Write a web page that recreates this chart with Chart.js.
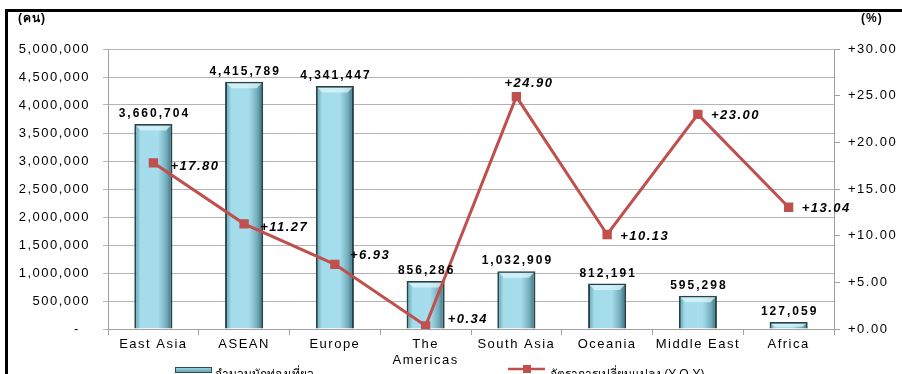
<!DOCTYPE html>
<html>
<head>
<meta charset="utf-8">
<script src="https://cdn.jsdelivr.net/npm/chart.js@4/dist/chart.umd.min.js"></script>
<style>
  html, body { margin: 0; padding: 0; background: #fff; }
  #wrap { position: relative; width: 902px; height: 374px; }
</style>
</head>
<body>
<div id="wrap"><canvas id="chart" width="902" height="374"></canvas></div>
<script>
// data
const regions = ["East Asia", "ASEAN", "Europe", ["The", "Americas"], "South Asia", "Oceania", "Middle East", "Africa"];
const visitors = [3660704, 4415789, 4341447, 856286, 1032909, 812191, 595298, 127059];
const growth = [17.80, 11.27, 6.93, 0.34, 24.90, 10.13, 23.00, 13.04];
const visitorsLabel = "จำนวนนักท่องเที่ยว";
const growthLabel = "อัตราการเปลี่ยนแปลง (Y-O-Y)";

// where the growth labels sit relative to their point (dx, dy)
const growthLabelOffset = [[17, 4], [16, 4], [15, -9], [22, -6], [-12, -13], [13, 2], [13, 1], [13, 1]];

const FONT = "'Liberation Sans', Arial, sans-serif";
const fmt = (v) => v.toLocaleString("en-US");
const fmtPct = (v) => "+" + v.toFixed(2);

const barFill = (ctx) => {
  const chart = ctx.chart;
  const xs = chart.scales.x;
  if (!chart.chartArea || !xs || ctx.dataIndex == null) return "#93CDDD";
  const cx = xs.getPixelForValue(ctx.dataIndex);
  const g = chart.ctx.createLinearGradient(cx - 19, 0, cx + 19, 0);
  g.addColorStop(0, "#5E98A7");
  g.addColorStop(0.16, "#A3DCEB");
  g.addColorStop(0.62, "#A6DDEC");
  g.addColorStop(0.84, "#74AEBD");
  g.addColorStop(1, "#3B6976");
  return g;
};

const decor = {
  id: "decor",
  beforeDraw(chart) {
    chart.ctx.letterSpacing = "1.5px";
  },
  afterDatasetDraw(chart, args) {
    if (args.index !== 1) return;
    // light bevel on top of each bar
    const ctx = chart.ctx;
    ctx.save();
    ctx.fillStyle = "rgba(220,245,250,0.75)";
    args.meta.data.forEach((bar) => {
      const l = bar.x - bar.width / 2 + 1.5;
      const r = bar.x + bar.width / 2 - 1.5;
      const t = bar.y + 1.5;
      const d = Math.min(5, (bar.base - bar.y) / 2);
      ctx.beginPath();
      ctx.moveTo(l, t);
      ctx.lineTo(r, t);
      ctx.lineTo(r - d, t + d);
      ctx.lineTo(l + d, t + d);
      ctx.closePath();
      ctx.fill();
    });
    ctx.restore();
  },
  afterDatasetsDraw(chart) {
    const ctx = chart.ctx;
    ctx.save();
    ctx.fillStyle = "#000";
    ctx.textAlign = "center";
    ctx.textBaseline = "bottom";
    ctx.font = "bold 12px " + FONT;
    ctx.letterSpacing = "2px";
    chart.getDatasetMeta(1).data.forEach((bar, i) => {
      ctx.fillText(fmt(visitors[i]), bar.x + 1, bar.y - 4);
    });
    ctx.font = "italic bold 13px " + FONT;
    ctx.letterSpacing = "1.5px";
    ctx.textAlign = "left";
    ctx.textBaseline = "middle";
    chart.getDatasetMeta(0).data.forEach((pt, i) => {
      const [dx, dy] = growthLabelOffset[i];
      ctx.fillText(fmtPct(growth[i]), pt.x + dx, pt.y + dy);
    });
    ctx.restore();
  },
  afterDraw(chart) {
    const ctx = chart.ctx;
    ctx.save();
    // frame
    ctx.strokeStyle = "#000";
    ctx.lineWidth = 3;
    ctx.beginPath();
    ctx.moveTo(6.5, 374);
    ctx.lineTo(6.5, 10.5);
    ctx.lineTo(902, 10.5);
    ctx.stroke();
    // unit titles
    ctx.fillStyle = "#000";
    ctx.font = "bold 12px " + FONT;
    ctx.letterSpacing = "1px";
    ctx.textBaseline = "middle";
    ctx.textAlign = "left";
    ctx.fillText("(คน)", 18, 19);
    ctx.fillText("(%)", 861, 19);
    // legend
    ctx.font = "12px " + FONT;
    ctx.letterSpacing = "0px";
    const ly = 370;
    const g = ctx.createLinearGradient(0, ly - 3, 0, ly + 3);
    g.addColorStop(0, "#A6DDEC");
    g.addColorStop(1, "#5E98A7");
    ctx.fillStyle = g;
    ctx.fillRect(175, ly - 3, 37, 6);
    ctx.strokeStyle = "#2B4E57";
    ctx.lineWidth = 1;
    ctx.strokeRect(175.5, ly - 2.5, 36, 5);
    ctx.fillStyle = "#000";
    ctx.fillText(visitorsLabel, 215, ly + 5);
    ctx.strokeStyle = "#C0504D";
    ctx.lineWidth = 2.5;
    ctx.beginPath();
    ctx.moveTo(508, ly - 1);
    ctx.lineTo(545, ly - 1);
    ctx.stroke();
    ctx.fillStyle = "#C0504D";
    ctx.fillRect(523, ly - 5, 8, 8);
    ctx.fillStyle = "#000";
    ctx.fillText(growthLabel, 550, ly + 5);
    ctx.restore();
  },
};

const chart = new Chart(document.getElementById("chart"), {
  type: "bar",
  data: {
    labels: regions,
    datasets: [
      {
        type: "line",
        label: growthLabel,
        data: growth,
        yAxisID: "y1",
        borderColor: "#C0504D",
        backgroundColor: "#C0504D",
        borderWidth: 3,
        pointStyle: "rect",
        pointRadius: 4.5,
        pointHoverRadius: 4.5,
        tension: 0,
        order: 0,
      },
      {
        label: visitorsLabel,
        data: visitors,
        yAxisID: "y",
        backgroundColor: barFill,
        borderColor: "#24444C",
        borderWidth: 2,
        barPercentage: 0.42,
        categoryPercentage: 1,
        order: 1,
      },
    ],
  },
  options: {
    responsive: false,
    animation: false,
    layout: { padding: { top: 49, left: 0, right: 0, bottom: 0 } },
    plugins: {
      legend: { display: false },
      tooltip: { enabled: false },
    },
    scales: {
      x: {
        offset: true,
        grid: { offset: true, drawOnChartArea: false, color: "#A0A0A0", tickLength: 6 },
        border: { color: "#A0A0A0" },
        ticks: {
          color: "#000",
          font: { family: FONT, size: 13 },
          padding: 2,
          maxRotation: 0,
          autoSkip: false,
        },
        afterFit: (s) => { s.height = 45; },
      },
      y: {
        position: "left",
        min: 0,
        max: 5000000,
        ticks: {
          stepSize: 500000,
          color: "#000",
          font: { family: FONT, size: 13 },
          padding: 13,
          callback: (v) => (v === 0 ? "-  " : fmt(v)),
        },
        grid: { color: "#B4B4B4", tickLength: 5 },
        border: { color: "#A0A0A0" },
        afterFit: (s) => { s.width = 108; },
      },
      y1: {
        position: "right",
        min: 0,
        max: 30,
        ticks: {
          stepSize: 5,
          color: "#000",
          font: { family: FONT, size: 13 },
          padding: 8,
          callback: (v) => fmtPct(v),
        },
        grid: { drawOnChartArea: false, color: "#A0A0A0", tickLength: 6 },
        border: { color: "#A0A0A0" },
        afterFit: (s) => { s.width = 68; },
      },
    },
  },
  plugins: [decor],
});
</script>
</body>
</html>
